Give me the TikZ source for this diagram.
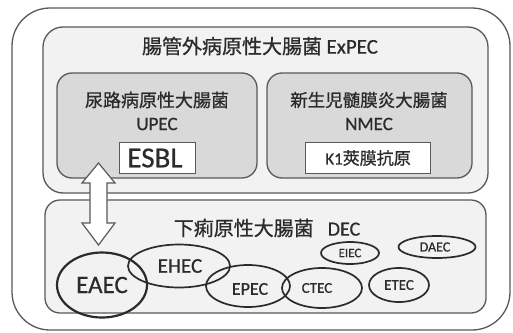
\documentclass[tikz,border=0pt]{standalone}
\usepackage{fontspec}
\setmainfont{Carlito}[FakeBold=0.6]
\newfontfamily\cjk{Noto Sans CJK JP}[FakeBold=0.8]
\usetikzlibrary{shapes.geometric}
\definecolor{edge}{HTML}{595959}
\definecolor{ink}{HTML}{2B2B2B}
\definecolor{lightfill}{HTML}{F2F2F2}
\definecolor{midfill}{HTML}{D9D9D9}
\newcommand{\fs}[1]{\fontsize{#1}{#1}\selectfont}
\tikzset{
  box/.style={draw=edge, line width=1.3pt, rectangle, inner sep=0pt},
  lbl/.style={text=ink, inner sep=0pt, anchor=center},
  ell/.style={draw=ink, line width=1.7pt, ellipse, inner sep=0pt, text=ink},
}
\begin{document}
\begin{tikzpicture}[x=1pt,y=-1pt]
\useasboundingbox (0,0) rectangle (513,332);
\fill[white] (0,0) rectangle (513,332);
% outer
\node[box, rounded corners=38pt, fill=white, minimum width=498pt, minimum height=322pt] (outer) at (261,169) {};
% ExPEC
\node[box, rounded corners=20pt, fill=lightfill, minimum width=445pt, minimum height=166pt] (expec) at (265.5,110) {};
\node[lbl] (expect) at (260,46) {\fs{20}{\cjk 腸管外病原性大腸菌} \fs{21}ExPEC};
% UPEC
\node[box, rounded corners=15pt, fill=midfill, minimum width=200pt, minimum height=105pt] (upec) at (157,125.5) {};
\node[lbl] (upect) at (157,100) {\fs{18}\cjk 尿路病原性大腸菌};
\node[lbl] (upecn) at (157,124) {\fs{19}UPEC};
\node[box, fill=white, line width=1pt, minimum width=76pt, minimum height=31pt] (esbl) at (157,157.5) {};
\node[lbl] (esblt) at (155,158) {\fs{29}ESBL};
% NMEC
\node[box, rounded corners=15pt, fill=midfill, minimum width=205pt, minimum height=105pt] (nmec) at (369.5,125.5) {};
\node[lbl] (nmect) at (369,100) {\fs{17.5}\cjk 新生児髄膜炎大腸菌};
\node[lbl] (nmecn) at (369,124) {\fs{19}NMEC};
\node[box, fill=white, line width=1pt, minimum width=125pt, minimum height=31pt] (k1) at (367.5,157.5) {};
\node[lbl] (k1t) at (368,158) {\fs{17}K1{\cjk 莢膜抗原}};
% DEC
\node[box, rounded corners=15pt, fill=lightfill, minimum width=441pt, minimum height=113pt] (dec) at (265.5,256.5) {};
\node[lbl] (dect) at (267,228) {\fs{20}{\cjk 下痢原性大腸菌}\hspace{14pt}DEC};
% ellipses
\node[ell, line width=2.2pt, minimum width=90pt, minimum height=65pt] (eaec) at (102,285) {\fs{25}EAEC};
\node[ell, minimum width=102pt, minimum height=43pt] (ehec) at (179,266) {};
\node[lbl] (eheclbl) at (180,266) {\fs{21}EHEC};
\node[ell, minimum width=84pt, minimum height=42pt] (epec) at (248,286) {};
\node[lbl] (epeclbl) at (250,289) {\fs{18}EPEC};
\node[ell, minimum width=80pt, minimum height=40pt] (ctec) at (322,288) {};
\node[lbl] (cteclbl) at (317,288) {\fs{15}CTEC};
\node[ell, minimum width=60pt, minimum height=34pt] (etec) at (399,285) {\fs{15}ETEC};
\node[ell, minimum width=58pt, minimum height=22pt] (eiec) at (350,253) {\fs{13}EIEC};
\node[ell, minimum width=77pt, minimum height=22pt] (daec) at (437,247) {};
\node[lbl] (daeclbl) at (435,247) {\fs{14}DAEC};
% double arrow
\coordinate (atop) at (98.5,163);
\coordinate (abot) at (98.5,245);
\draw[draw=edge, fill=white, line width=1.2pt, line join=miter]
  (atop) -- ++(16.5,20) -- ++(-8,0) -- ++(0,40) -- ++(8,0) -- (abot)
  -- ++(-16.5,-22) -- ++(8,0) -- ++(0,-40) -- ++(-8,0) -- cycle;
\end{tikzpicture}
\end{document}
